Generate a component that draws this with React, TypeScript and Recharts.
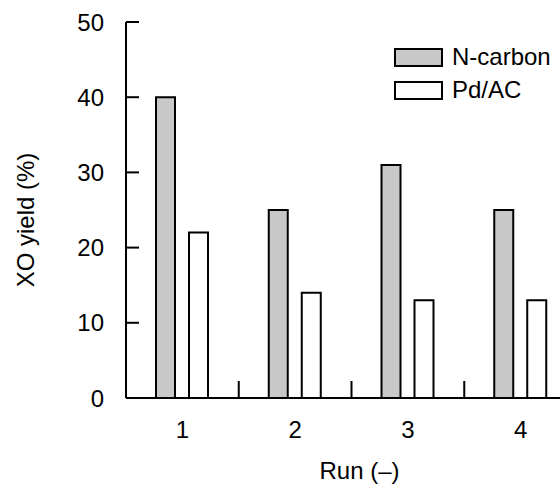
import React from "react";
import { BarChart, Bar, XAxis, YAxis } from "recharts";

const RUNS = ["1", "2", "3", "4"];
const N_CARBON = [40, 25, 31, 25];
const PD_AC = [22, 14, 13, 13];
const Y_TICKS = [0, 10, 20, 30, 40, 50];

const SERIES = [
  { key: "nCarbon", name: "N-carbon", fill: "#c8c8c8" },
  { key: "pdAc", name: "Pd/AC", fill: "#ffffff" },
];

const data = RUNS.map((run, i) => ({ run, nCarbon: N_CARBON[i], pdAc: PD_AC[i] }));

const FONT = "'Liberation Sans', Arial, sans-serif";
const FS = 24;
const PLOT_W = 451;
const BAND = PLOT_W / RUNS.length;
const Y_MARGIN = 22;
const X_MARGIN = 23;

const YTick = (props: any) => {
  const { x, y, payload } = props;
  return (
    <g>
      <line x1={x + Y_MARGIN} x2={x + Y_MARGIN + 13} y1={y} y2={y} stroke="#000" strokeWidth={2} />
      <text x={x} y={y} textAnchor="end" dominantBaseline="central" fontSize={FS} fill="#000" fontFamily={FONT}>
        {payload.value}
      </text>
    </g>
  );
};

const XTick = (props: any) => {
  const { x, y, payload } = props;
  const axisY = y - X_MARGIN;
  return (
    <g>
      <line x1={x + BAND / 2} x2={x + BAND / 2} y1={axisY} y2={axisY - 17} stroke="#000" strokeWidth={2} />
      <text x={x} y={y} dy="0.71em" textAnchor="middle" fontSize={FS} fill="#000" fontFamily={FONT}>
        {payload.value}
      </text>
    </g>
  );
};

// legend drawn as a plain overlay so it doesn't eat plot space
const LegendBox = () => (
  <div style={{ position: "absolute", top: 47, left: 394, fontSize: FS, color: "#000" }}>
    {SERIES.map((s) => (
      <div key={s.key} style={{ display: "flex", alignItems: "center", height: 20, marginBottom: 13 }}>
        <div style={{ width: 49, height: 19, boxSizing: "border-box", border: "2px solid #000", background: s.fill }} />
        <span style={{ marginLeft: 9, lineHeight: "20px", whiteSpace: "nowrap" }}>{s.name}</span>
      </div>
    ))}
  </div>
);

export default function App() {
  // fixed frame = the whole window; chart is cut at the right edge like the original
  return (
    <div style={{ position: "fixed", top: 0, left: 0, width: 560, height: 488, overflow: "hidden", fontFamily: FONT, background: "#fff" }}>
      <div style={{ position: "absolute", top: 8, left: 8 }}>
        <BarChart
          width={600}
          height={480}
          data={data}
          margin={{ top: 14, right: 600 - 118 - PLOT_W, left: 0, bottom: 30 }}
          barSize={19}
          barGap={14}
        >
          <XAxis
            dataKey="run"
            height={60}
            tickSize={0}
            tickMargin={X_MARGIN}
            tickLine={false}
            tick={<XTick />}
            axisLine={{ stroke: "#000", strokeWidth: 2 }}
            label={{
              content: (p: any) => {
                const vb = p.viewBox;
                return (
                  <text
                    x={vb.x + vb.width / 2 + 8}
                    y={vb.y + 72}
                    textAnchor="middle"
                    dominantBaseline="central"
                    fontSize={FS}
                    fill="#000"
                    fontFamily={FONT}
                  >
                    Run (–)
                  </text>
                );
              },
            }}
          />
          <XAxis
            xAxisId="top"
            dataKey="run"
            orientation="top"
            height={0}
            tick={false}
            tickLine={false}
            axisLine={{ stroke: "#000", strokeWidth: 2 }}
          />
          <YAxis
            width={118}
            domain={[0, 50]}
            ticks={Y_TICKS}
            tickSize={0}
            tickMargin={Y_MARGIN}
            tickLine={false}
            tick={<YTick />}
            axisLine={{ stroke: "#000", strokeWidth: 2 }}
            label={{
              content: (p: any) => {
                const vb = p.viewBox;
                const cx = vb.x + 17;
                const cy = vb.y + vb.height / 2 + 10;
                return (
                  <text
                    x={cx}
                    y={cy}
                    transform={`rotate(-90, ${cx}, ${cy})`}
                    textAnchor="middle"
                    dominantBaseline="central"
                    fontSize={FS}
                    fill="#000"
                    fontFamily={FONT}
                  >
                    XO yield (%)
                  </text>
                );
              },
            }}
          />
          {SERIES.map((s) => (
            <Bar
              key={s.key}
              dataKey={s.key}
              name={s.name}
              fill={s.fill}
              stroke="#000"
              strokeWidth={2}
              isAnimationActive={false}
            />
          ))}
        </BarChart>
      </div>
      <LegendBox />
    </div>
  );
}
